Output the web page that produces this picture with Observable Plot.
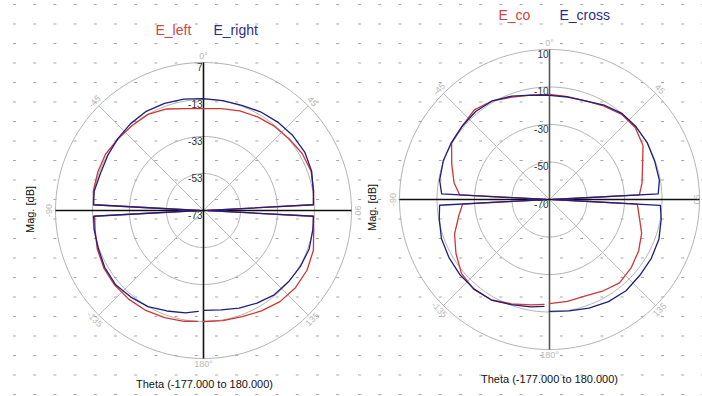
<!DOCTYPE html>
<html>
<head>
<meta charset="utf-8">
<script src="https://cdn.jsdelivr.net/npm/d3@7"></script>
<script src="https://cdn.jsdelivr.net/npm/@observablehq/plot@0.6"></script>
<style>
  html, body { margin: 0; padding: 0; background: #fff; }
  #wrap { display: flex; width: 702px; height: 396px; overflow: hidden; }
  #wrap svg { flex: none; }
</style>
</head>
<body>
<div id="wrap"></div>
<script>
// Sweep angle in degrees (0 = up, clockwise positive)
const theta = [-177,-170,-160,-150,-140,-130,-120,-110,-100,-93,-90,-87,-80,-70,-60,-50,-40,-30,-20,-10,
               0,10,20,30,40,50,60,70,80,87,90,93,100,110,120,130,140,150,160,170,180];

// Left pattern, magnitude in dB
const eLeft  = [-13.0,-12.2,-11.4,-10.6,-10.3,-10.3,-10.8,-11.9,-13.5,-14.1,-70.8,-13.5,-12.5,-12.2,-11.9,-12.7,-13.0,-13.0,-14.6,-17.1,
                -17.9,-17.1,-15.7,-14.6,-13.5,-12.7,-11.4,-11.1,-12.5,-13.5,-70.8,-13.5,-12.5,-9.8,-8.4,-8.1,-8.7,-10.3,-11.9,-12.5,-13.0];
const eRight = [-18.4,-16.8,-15.2,-13.0,-11.9,-10.8,-11.4,-12.5,-13.0,-13.5,-70.8,-13.5,-13.0,-13.8,-13.3,-12.5,-11.7,-11.1,-11.4,-11.9,
                -12.5,-12.7,-12.5,-11.4,-10.6,-10.0,-9.8,-10.8,-12.7,-13.5,-70.8,-13.5,-13.0,-12.2,-12.5,-13.0,-13.5,-15.2,-16.8,-18.4,-19.0];

// Right pattern, magnitude in dB
const eCo    = [-14.0,-12.9,-10.8,-8.1,-7.3,-8.7,-12.4,-16.1,-20.9,-23.6,-68.4,-22.0,-18.3,-14.5,-9.7,-9.2,-7.6,-9.2,-11.9,-13.5,
                -14.0,-14.3,-14.0,-12.4,-10.5,-10.3,-12.4,-17.2,-19.9,-22.0,-68.4,-23.1,-21.5,-17.7,-15.1,-13.2,-11.9,-13.5,-15.1,-14.8,-14.5];
const eCross = [-12.9,-11.9,-10.3,-8.1,-7.6,-7.6,-8.1,-8.7,-10.3,-11.3,-68.4,-12.4,-10.5,-9.7,-9.5,-9.2,-8.7,-9.2,-11.3,-13.5,
                -14.5,-14.5,-14.0,-11.9,-10.0,-9.7,-9.7,-10.3,-10.5,-11.9,-68.4,-10.8,-9.5,-7.9,-7.3,-7.1,-6.5,-7.1,-8.4,-9.7,-10.3];

// Radial grid rings (dB)
const ringsLeft  = [7, -13, -33, -53, -73];
const ringsRight = [10, -10, -30, -50, -70];

// Angular tick labels
const angleTicks  = [0, 45, 90, 135, 180, -135, -90, -45];
const angleLabels = ["0°", "45", "90", "135", "180°", "-135", "-90", "-45"];

const axisTitleR = "Mag. [dB]";
const axisTitleT = "Theta (-177.000 to 180.000)";

const RED = "#cf3636";
const BLUE = "#1e1f7e";
const FONT = "'Liberation Sans', Arial, sans-serif";

const sin = a => Math.sin(a * Math.PI / 180);
const cos = a => Math.cos(a * Math.PI / 180);

function polarPanel(o) {
  const {W, H, cx, cy, R, rings, series, legend, legendY, magX, magY, thetaX, thetaY, dash, id, labelLimit} = o;
  const rad = d3.scaleLinear([d3.min(rings), d3.max(rings)], [0, 1]).clamp(true);
  const ringPts = rings.filter(v => rad(v) > 0)
    .flatMap(v => d3.range(0, 361, 2).map(a => ({v, a})));
  const off = 6 / R;
  // keep angle labels left of the given pixel limit
  const labelR = a => {
    const r = 1 + off;
    const px = cx + r * R * sin(a);
    return px > labelLimit ? (labelLimit - cx) / (R * sin(a)) : r;
  };

  const seriesMarks = series.map(s => {
    const rows = theta.map((t, i) => ({t, v: s.values[i]}));
    return Plot.line(rows, {
      x: d => rad(d.v) * sin(d.t),
      y: d => rad(d.v) * cos(d.t),
      stroke: s.color, strokeWidth: 1.3, curve: "linear"
    });
  });

  const legendMarks = legend.map(l => Plot.text([l.text], {
    text: d => d, frameAnchor: "top-left", dx: l.x, dy: legendY,
    textAnchor: "start", lineAnchor: "middle", fill: l.color, fontSize: 14, fontFamily: FONT
  }));

  const node = Plot.plot({
    width: W, height: H, margin: 0,
    x: {domain: [-cx / R, (W - cx) / R], range: [0, W], axis: null},
    y: {domain: [-(H - cy) / R, cy / R], range: [H, 0], axis: null},
    style: {background: "transparent", overflow: "visible", fontFamily: FONT},
    marks: [
      // rings
      Plot.line(ringPts, {x: d => rad(d.v) * sin(d.a), y: d => rad(d.v) * cos(d.a), z: "v",
        stroke: "#b3b3b3", strokeWidth: 1}),
      // diagonal spokes
      Plot.link([45, -45], {x1: a => sin(a), y1: a => cos(a), x2: a => -sin(a), y2: a => -cos(a),
        stroke: "#bcbcbc", strokeWidth: 1}),
      // main axes
      Plot.link([0], {x1: 0, y1: 1, x2: 0, y2: -1, stroke: o.vAxis, strokeWidth: 1.6}),
      Plot.link([90], {x1: -1, y1: 0, x2: 1, y2: 0, stroke: "#111", strokeWidth: 1.6}),
      // angle labels
      Plot.text(angleTicks, {
        x: a => labelR(a) * sin(a), y: a => labelR(a) * cos(a),
        text: (a, i) => angleLabels[i],
        rotate: a => (a === 0 || a === 180) ? 0 : (Math.abs(a) <= 90 ? a : a - Math.sign(a) * 180),
        fill: "#b8b8b8", fontSize: 9, textAnchor: "middle", lineAnchor: "middle"
      }),
      ...seriesMarks,
      // ring labels
      Plot.text(rings, {x: 0, y: v => rad(v), text: v => String(v), textAnchor: "end",
        lineAnchor: "middle", dx: -1, dy: 5, fill: "#333", fontSize: 10}),
      ...legendMarks,
      Plot.text([axisTitleR], {text: d => d, frameAnchor: "top-left", dx: magX, dy: magY, rotate: -90,
        textAnchor: "middle", lineAnchor: "middle", fill: "#111", fontSize: 11}),
      Plot.text([axisTitleT], {text: d => d, frameAnchor: "top-left", dx: thetaX, dy: thetaY,
        textAnchor: "middle", lineAnchor: "middle", fill: "#111", fontSize: 11})
    ]
  });

  // dotted canvas grid behind everything
  const svg = d3.select(node);
  svg.insert("rect", ":first-child").attr("width", W).attr("height", H).attr("fill", `url(#${id})`);
  const pat = svg.insert("defs", ":first-child").append("pattern")
    .attr("id", id).attr("patternUnits", "userSpaceOnUse")
    .attr("x", dash.x).attr("y", dash.y).attr("width", 20.2).attr("height", 19.5);
  pat.append("rect").attr("width", 3).attr("height", 1).attr("fill", "#a4a4a4");
  return node;
}

const wrap = document.getElementById("wrap");
wrap.append(polarPanel({
  id: "gridL", W: 351, H: 396, cx: 203, cy: 210, R: 148, rings: ringsLeft, vAxis: "#111", labelLimit: 400,
  series: [{values: eLeft, color: RED}, {values: eRight, color: BLUE}],
  legend: [{text: "E_left", x: 155, color: "#d04444"}, {text: "E_right", x: 213, color: "#2c2c8c"}],
  legendY: 30, magX: 30, magY: 209, thetaX: 204, thetaY: 384, dash: {x: 13, y: 4}
}));
wrap.append(polarPanel({
  id: "gridR", W: 351, H: 396, cx: 198, cy: 199, R: 150, rings: ringsRight, vAxis: "#555", labelLimit: 345,
  series: [{values: eCo, color: RED}, {values: eCross, color: BLUE}],
  legend: [{text: "E_co", x: 147, color: "#d04444"}, {text: "E_cross", x: 208, color: "#2c2c8c"}],
  legendY: 15, magX: 21, magY: 207, thetaX: 198, thetaY: 379, dash: {x: 7, y: 4}
}));
</script>
</body>
</html>
